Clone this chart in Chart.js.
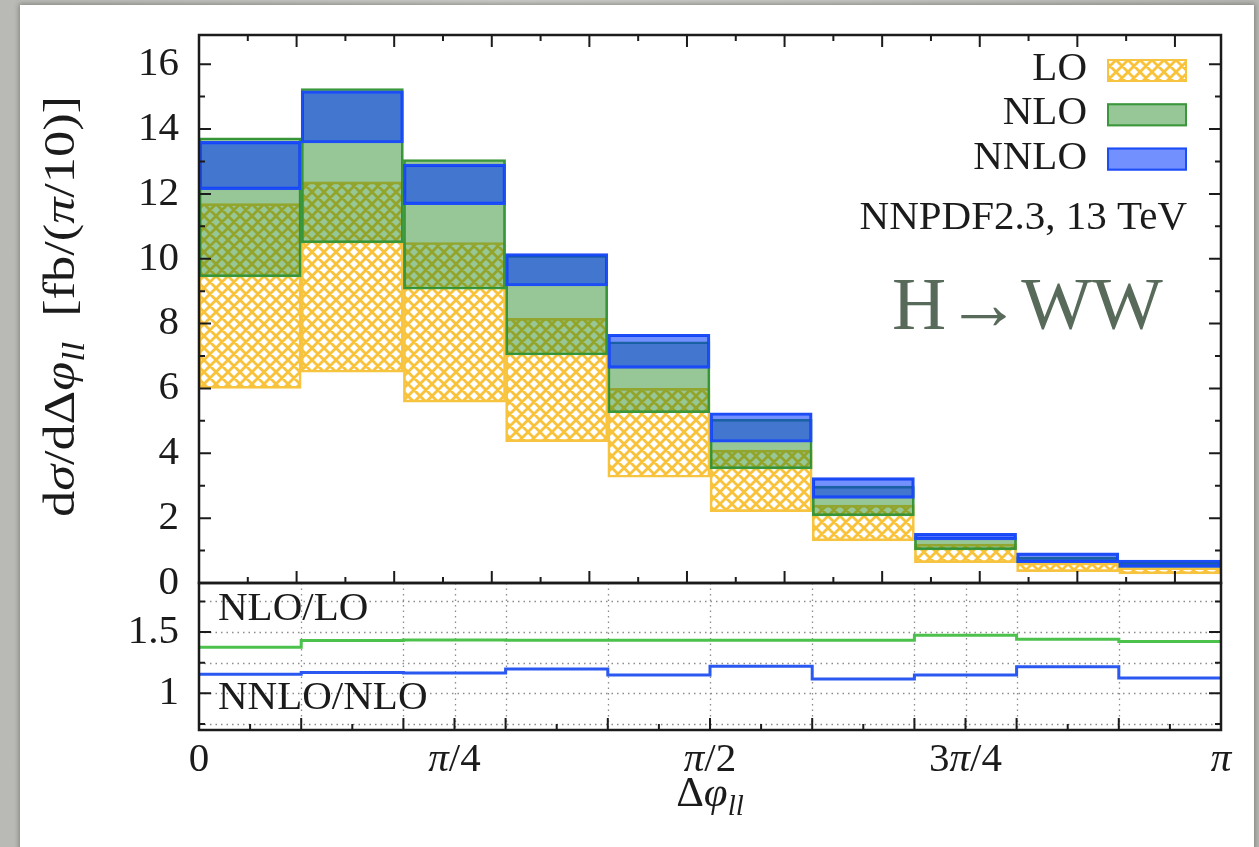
<!DOCTYPE html>
<html>
<head>
<meta charset="utf-8">
<title>H→WW Δφll</title>
<script src="https://cdn.jsdelivr.net/npm/chart.js@4.4.1/dist/chart.umd.min.js"></script>
<style>
    html, body { margin: 0; padding: 0; }
    body {
        width: 1259px; height: 847px; overflow: hidden; position: relative;
        background: linear-gradient(90deg, #b9b9b5 0%, #cacac6 40%, #c4c4c0 70%, #b7b7b3 100%);
    }
    .card {
        position: absolute; left: 20px; top: 5px; width: 1234px; height: 860px;
        background: #fff; box-shadow: 0 0 5px 1px rgba(60, 60, 55, 0.45);
    }
    #chart { position: absolute; left: 0; top: 0; }
</style>
</head>
<body>
<div class="card"></div>
<canvas id="chart" width="1259" height="847"></canvas>
<script>
const PI = Math.PI;
const binCount = 10;

// bands per bin (scale variation)
const loLow    = [6.00, 6.50, 5.58, 4.36, 3.26, 2.20, 1.30, 0.63, 0.35, 0.28];
const loHigh   = [11.70, 12.37, 10.50, 8.16, 6.00, 4.10, 2.40, 1.20, 0.62, 0.47];
const nloLow   = [9.44, 10.49, 9.06, 7.03, 5.25, 3.52, 2.07, 1.02, 0.63, 0.48];
const nloHigh  = [13.73, 15.25, 13.06, 10.10, 7.44, 5.05, 2.99, 1.42, 0.80, 0.64];
const nnloLow  = [12.13, 13.57, 11.67, 9.16, 6.62, 4.34, 2.61, 1.33, 0.63, 0.48];
const nnloHigh = [13.62, 15.18, 12.92, 10.16, 7.67, 5.25, 3.25, 1.53, 0.93, 0.71];

// ratio panel
const nloOverLo   = [1.375, 1.431, 1.434, 1.433, 1.433, 1.433, 1.433, 1.473, 1.440, 1.422];
const nnloOverNlo = [1.155, 1.170, 1.165, 1.198, 1.150, 1.221, 1.117, 1.149, 1.217, 1.125];

// ticks
const mainYTicks = [0, 2, 4, 6, 8, 10, 12, 14, 16];
const mainYMinor = [1, 3, 5, 7, 9, 11, 13, 15];
const mainXMajor = [0.3, 0.6, 0.9, 1.2, 1.5, 1.8, 2.1, 2.4, 2.7, 3.0];
const mainXMinor = [0.15, 0.45, 0.75, 1.05, 1.35, 1.65, 1.95, 2.25, 2.55, 2.85];
const ratioYTicks = [1, 1.5];
const ratioYMinor = [0.75, 1.25, 1.75];
const ratioGridY = [0.75, 1, 1.25, 1.5, 1.75];
const xTickValues = [0, PI / 4, PI / 2, 3 * PI / 4, PI];
const xTickLabels = ["0", "π/4", "π/2", "3π/4", "π"];
const legendLabels = ["LO", "NLO", "NNLO"];

const SERIF = "'Liberation Serif', 'Times New Roman', serif";
const INK = "#1b1b1b";
const YELLOW = "#f6c440";
const GREEN_FILL = "rgba(24, 128, 24, 0.45)";
const GREEN_LINE = "#3b973b";
const BLUE_FILL = "rgba(0, 52, 255, 0.55)";
const BLUE_LINE = "#1d4df5";

const binEdges = Array.from({ length: binCount + 1 }, (_, i) => i * PI / binCount);
const binMids = binEdges.slice(0, -1).map((e) => e + PI / binCount / 2);
const ratioGridX = binEdges.slice(1, -1).concat([PI / 4, 3 * PI / 4]);
const ratioXMajor = ratioGridX;

function makeHatch() {
    const s = 12;
    const c = document.createElement("canvas");
    c.width = s;
    c.height = s;
    const g = c.getContext("2d");
    g.strokeStyle = "#f8c23a";
    g.lineWidth = 2.8;
    g.beginPath();
    [-s, 0, s].forEach((k) => {
        g.moveTo(k, 0);
        g.lineTo(k + s, s);
        g.moveTo(k + s, 0);
        g.lineTo(k, s);
    });
    g.stroke();
    return g.createPattern(c, "repeat");
}
const hatch = makeHatch();

function band(lo, hi) {
    return lo.map((v, i) => ({ x: binMids[i], y: [v, hi[i]] }));
}

function steps(values) {
    const pts = values.map((v, i) => ({ x: binEdges[i], y: v }));
    pts.push({ x: PI, y: values[values.length - 1] });
    return pts;
}

function mathSegs(str) {
    return str.split("").reduce((segs, ch) => {
        const it = ch === "π";
        const last = segs[segs.length - 1];
        if (last && last.it === it) {
            last.t += ch;
        } else {
            segs.push({ t: ch, it });
        }
        return segs;
    }, []);
}

function segFont(seg, size) {
    return (seg.it ? "italic " : "") + Math.round(seg.sub ? size * 0.68 : size) + "px " + SERIF;
}

function segWidth(ctx, seg, size) {
    if ("gap" in seg) {
        return seg.gap;
    }
    ctx.font = segFont(seg, size);
    return ctx.measureText(seg.t).width;
}

function drawMath(ctx, segs, x, y, align, size) {
    const widths = segs.map((s) => segWidth(ctx, s, size));
    const total = widths.reduce((a, b) => a + b, 0);
    let cx = align === "center" ? x - total / 2 : align === "right" ? x - total : x;
    ctx.textAlign = "left";
    ctx.textBaseline = "alphabetic";
    segs.forEach((s, i) => {
        if (!("gap" in s)) {
            ctx.font = segFont(s, size);
            ctx.fillText(s.t, cx, y + (s.sub ? size * 0.22 : 0));
        }
        cx += widths[i];
    });
}

function strokeTicks(ctx, list) {
    ctx.beginPath();
    list.forEach(([x0, y0, x1, y1]) => {
        ctx.moveTo(x0, y0);
        ctx.lineTo(x1, y1);
    });
    ctx.stroke();
}

const panelPlugin = {
    id: "panelPlugin",
    beforeDatasetsDraw(chart) {
        const { ctx } = chart;
        const x = chart.scales.x;
        const r = chart.scales.y2;
        ctx.save();
        ctx.strokeStyle = "#8c8c8c";
        ctx.lineWidth = 1.3;
        ctx.setLineDash([1.5, 4]);
        ctx.beginPath();
        ratioGridY.forEach((v) => {
            const py = Math.round(r.getPixelForValue(v)) + 0.5;
            ctx.moveTo(x.left, py);
            ctx.lineTo(x.right, py);
        });
        ratioGridX.forEach((v) => {
            const px = Math.round(x.getPixelForValue(v)) + 0.5;
            ctx.moveTo(px, r.top);
            ctx.lineTo(px, r.bottom);
        });
        ctx.stroke();
        ctx.restore();
    },
    afterDatasetsDraw(chart) {
        const { ctx } = chart;
        const x = chart.scales.x;
        const m = chart.scales.y;
        const r = chart.scales.y2;
        const major = 12;
        const minor = 6;
        ctx.save();

        // ticks, pointing inwards
        ctx.strokeStyle = INK;
        ctx.lineWidth = 2;
        const t = [];
        mainXMajor.concat(mainXMinor).forEach((v, i) => {
            const px = x.getPixelForValue(v);
            const len = i < mainXMajor.length ? major : minor;
            t.push([px, m.top, px, m.top + len], [px, m.bottom, px, m.bottom - len]);
        });
        mainYTicks.concat(mainYMinor).forEach((v, i) => {
            const py = m.getPixelForValue(v);
            const len = i < mainYTicks.length ? major : minor;
            t.push([x.left, py, x.left + len, py], [x.right, py, x.right - len, py]);
        });
        ratioXMajor.concat(binMids).forEach((v, i) => {
            const px = x.getPixelForValue(v);
            const len = i < ratioXMajor.length ? major : minor;
            t.push([px, r.bottom, px, r.bottom - len]);
        });
        ratioYTicks.concat(ratioYMinor).forEach((v, i) => {
            const py = r.getPixelForValue(v);
            const len = i < ratioYTicks.length ? major : minor;
            t.push([x.left, py, x.left + len, py], [x.right, py, x.right - len, py]);
        });
        strokeTicks(ctx, t);

        // frames
        ctx.lineWidth = 2.5;
        ctx.strokeRect(x.left, m.top, x.right - x.left, m.bottom - m.top);
        ctx.strokeRect(x.left, r.top, x.right - x.left, r.bottom - r.top);

        ctx.fillStyle = INK;
        // x tick labels
        xTickValues.forEach((v, i) => {
            drawMath(ctx, mathSegs(xTickLabels[i]), x.getPixelForValue(v), r.bottom + 41, "center", 41);
        });

        // axis titles
        drawMath(ctx, [{ t: "Δ" }, { t: "φ", it: true }, { t: "ll", it: true, sub: true }],
            (x.left + x.right) / 2, r.bottom + 76, "center", 43);

        const ySegs = [
            { t: "d" }, { t: "σ", it: true }, { t: "/d" }, { t: "Δ" }, { t: "φ", it: true },
            { t: "ll", it: true, sub: true }, { gap: 0 },
            { t: "[fb/(" }, { t: "π", it: true }, { t: "/10)]" },
        ];
        const ySize = 45;
        const natural = ySegs.reduce((a, s) => a + segWidth(ctx, s, ySize), 0);
        const stretch = (421 - 25) / natural;
        ySegs[6].gap = 25 / stretch;
        ctx.save();
        ctx.translate(74, (m.top + m.bottom) / 2 + 208);
        ctx.rotate(-PI / 2);
        ctx.scale(stretch, 1);
        drawMath(ctx, ySegs, 0, 0, "left", ySize);
        ctx.restore();

        // legend
        const swatches = [
            { fill: hatch, line: YELLOW },
            { fill: GREEN_FILL, line: GREEN_LINE },
            { fill: BLUE_FILL, line: BLUE_LINE },
        ];
        legendLabels.forEach((label, i) => {
            const base = m.top + 45 + i * 44.3;
            ctx.fillStyle = INK;
            drawMath(ctx, [{ t: label }], x.right - 134, base, "right", 41);
            const sx = x.right - 114;
            const sy = base - 21;
            ctx.fillStyle = swatches[i].fill;
            ctx.fillRect(sx, sy, 80, 23);
            ctx.strokeStyle = swatches[i].line;
            ctx.lineWidth = 2;
            ctx.strokeRect(sx + 1, sy + 1, 78, 21);
        });

        ctx.fillStyle = INK;
        drawMath(ctx, [{ t: "NNPDF2.3, 13 TeV" }], x.right - 34, m.top + 194, "right", 41);

        ctx.fillStyle = "#586a5a";
        drawMath(ctx, [{ t: "H→WW" }], x.left + 693, m.top + 294, "left", 75);

        ctx.fillStyle = INK;
        drawMath(ctx, [{ t: "NLO/LO" }], x.left + 19, r.top + 37, "left", 41);
        drawMath(ctx, [{ t: "NNLO/NLO" }], x.left + 19, r.top + 126, "left", 41);

        ctx.restore();
    },
};

function fixedTicks(values) {
    return (scale) => {
        scale.ticks = values.map((v) => ({ value: v }));
    };
}

function noEdgePadding(width) {
    return (scale) => {
        scale.width = width;
        scale.paddingTop = 0;
        scale.paddingBottom = 0;
    };
}

const yTickStyle = {
    font: { family: SERIF, size: 41 },
    color: INK,
    padding: 20,
    autoSkip: false,
    callback: (value) => String(value),
};

new Chart(document.getElementById("chart"), {
    data: {
        datasets: [
            {
                type: "bar",
                label: "LO",
                data: band(loLow, loHigh),
                backgroundColor: hatch,
                borderColor: YELLOW,
                borderWidth: 2,
                borderSkipped: false,
                grouped: false,
                barPercentage: 1,
                categoryPercentage: 1,
                yAxisID: "y",
                order: 3,
            },
            {
                type: "bar",
                label: "NLO",
                data: band(nloLow, nloHigh),
                backgroundColor: GREEN_FILL,
                borderColor: GREEN_LINE,
                borderWidth: 2,
                borderSkipped: false,
                grouped: false,
                barPercentage: 1,
                categoryPercentage: 1,
                yAxisID: "y",
                order: 2,
            },
            {
                type: "bar",
                label: "NNLO",
                data: band(nnloLow, nnloHigh),
                backgroundColor: BLUE_FILL,
                borderColor: BLUE_LINE,
                borderWidth: 2.5,
                borderSkipped: false,
                grouped: false,
                barPercentage: 1,
                categoryPercentage: 1,
                yAxisID: "y",
                order: 1,
            },
            {
                type: "line",
                label: "NLO/LO",
                data: steps(nloOverLo),
                stepped: true,
                borderColor: "#4cc24c",
                borderWidth: 3,
                pointRadius: 0,
                fill: false,
                yAxisID: "y2",
                order: 0,
            },
            {
                type: "line",
                label: "NNLO/NLO",
                data: steps(nnloOverNlo),
                stepped: true,
                borderColor: "#2a58f0",
                borderWidth: 3,
                pointRadius: 0,
                fill: false,
                yAxisID: "y2",
                order: 0,
            },
        ],
    },
    options: {
        responsive: false,
        animation: false,
        events: [],
        layout: { padding: { top: 35, right: 38, bottom: 0, left: 0 } },
        plugins: { legend: { display: false }, tooltip: { enabled: false } },
        scales: {
            x: {
                type: "linear",
                min: 0,
                max: PI,
                offset: false,
                grid: { display: false, drawTicks: false, offset: false },
                border: { display: false },
                ticks: { display: false },
                afterBuildTicks: fixedTicks(xTickValues),
                afterFit: (scale) => {
                    scale.height = 117;
                    scale.paddingLeft = 0;
                    scale.paddingRight = 0;
                },
            },
            y: {
                type: "linear",
                position: "left",
                stack: "panels",
                stackWeight: 548,
                weight: 1,
                min: 0,
                max: 16.9,
                grid: { display: false, drawTicks: false },
                border: { display: false },
                ticks: yTickStyle,
                afterBuildTicks: fixedTicks(mainYTicks),
                afterFit: noEdgePadding(199),
            },
            y2: {
                type: "linear",
                position: "left",
                stack: "panels",
                stackWeight: 147,
                weight: 0,
                min: 0.7,
                max: 1.9,
                grid: { display: false, drawTicks: false },
                border: { display: false },
                ticks: yTickStyle,
                afterBuildTicks: fixedTicks(ratioYTicks),
                afterFit: noEdgePadding(199),
            },
        },
    },
    plugins: [panelPlugin],
});
</script>
</body>
</html>
